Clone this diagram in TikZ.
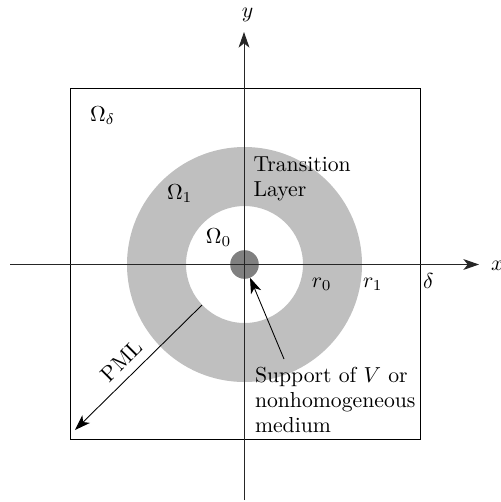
\documentclass[tikz,border=0pt]{standalone}
\usetikzlibrary{arrows.meta}
\begin{document}
\begin{tikzpicture}[x=0.4608pt,y=-0.4608pt,
  every node/.style={inner sep=0pt, outer sep=0pt},
  axis/.style={draw=black!85, line width=0.45pt},
  tipped/.style={-{Stealth[length=7.2pt,width=5pt,inset=2pt]}},
  frame/.style={draw=black, line width=0.45pt},
  ring/.style={fill=black!25, even odd rule},
  core/.style={circle, fill=black!50, minimum size=13.2pt},
  twoline/.style={align=left, font={\fontsize{10}{11.5}\selectfont}}]
\useasboundingbox (0,0) rectangle (501,502);
\coordinate (O) at (244.5,264.5);
% annulus
\fill[ring] (O) circle[radius=117.5] (O) circle[radius=58.5];
% support disk
\node[core] (disk) at (O) {};
% square
\draw[frame] (70,88) rectangle (420,439);
% axes
\coordinate (xl) at (10,264.5);
\coordinate (xr) at (479,264.5);
\coordinate (yb) at (244,500);
\coordinate (yt) at (244,32);
\draw[axis,tipped] (xl) -- (xr);
\draw[axis,tipped] (yb) -- (yt);
\node[anchor=base west] (xlab) at (491,270) {$x$};
\node[anchor=base] (ylab) at (247.5,17.5) {$y$};
% region labels
\node[anchor=base west] (Od) at (90,121.5) {$\Omega_\delta$};
\node[anchor=base west] (O1) at (167,199) {$\Omega_1$};
\node[anchor=base west] (O0) at (206,243) {$\Omega_0$};
\node[anchor=base west] (r0) at (312,287) {$r_0$};
\node[anchor=base west] (r1) at (363,287) {$r_1$};
\node[anchor=base west] (dl) at (423,288) {$\delta$};
\node[twoline, anchor=north west] (trans) at (253.5,157) {Transition\\Layer};
% PML arrow
\coordinate (p1) at (202,305);
\coordinate (p2) at (75,430);
\draw[tipped] (p1) -- (p2);
\node[rotate=45] (pml) at (121.5,361) {PML};
% support arrow
\node[twoline, anchor=north west] (sup) at (255,367.6) {Support of $V$ or\\nonhomogeneous\\medium};
\coordinate (s1) at (284,359);
\draw[tipped] (s1) -- (disk);
\end{tikzpicture}
\end{document}
